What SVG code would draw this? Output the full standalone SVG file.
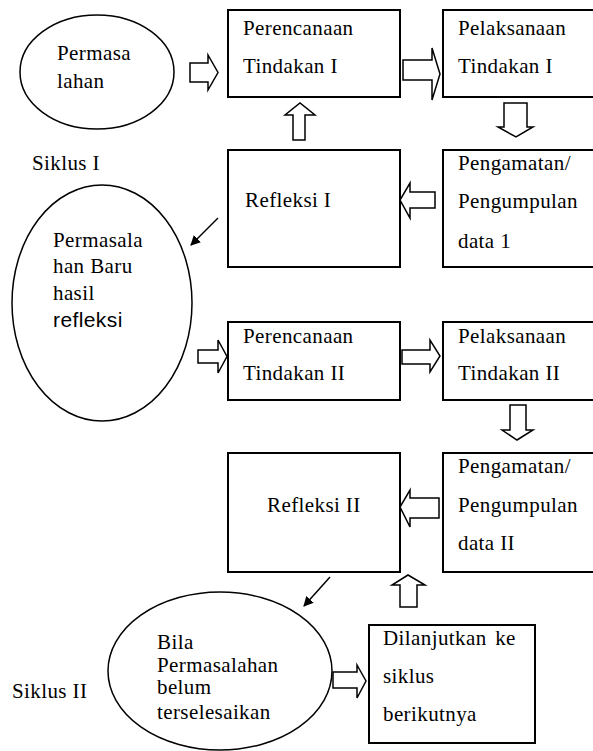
<svg xmlns="http://www.w3.org/2000/svg" width="593" height="751" viewBox="0 0 593 751">
<style>
.box{fill:#fff;stroke:#000;stroke-width:2}
.ell{fill:#fff;stroke:#000;stroke-width:1.5}
.blk{fill:#fff;stroke:#000;stroke-width:1.5;stroke-linejoin:miter}
.ln{stroke:#000;stroke-width:1.5;fill:none}
text{font-family:"Liberation Serif","Times New Roman",serif;font-size:21px;letter-spacing:0.4px;fill:#000}
.sans{font-family:"Liberation Sans",Arial,sans-serif}
</style>
<defs>
<marker id="ah" markerWidth="10" markerHeight="10" refX="9" refY="5" orient="auto" markerUnits="userSpaceOnUse" viewBox="0 0 10 10">
<path d="M0,0 L10,5 L0,10 z" fill="#000"/>
</marker>
</defs>
<rect width="593" height="751" fill="#fff"/>
<g id="n-permasalahan">
<ellipse class="ell" cx="97" cy="72" rx="77" ry="57"/>
<text x="57" y="60">Permasa</text>
<text x="57" y="88">lahan</text>
</g>
<g id="n-perencanaan1">
<rect class="box" x="228" y="10" width="172" height="87"/>
<text x="243" y="35">Perencanaan</text>
<text x="243" y="73">Tindakan I</text>
</g>
<g id="n-pelaksanaan1">
<rect class="box" x="443" y="10" width="160" height="87"/>
<text x="458" y="35">Pelaksanaan</text>
<text x="458" y="73">Tindakan I</text>
</g>
<g id="n-siklus1">
<text x="32" y="170">Siklus I</text>
</g>
<g id="n-refleksi1">
<rect class="box" x="228" y="150" width="172" height="117"/>
<text x="245" y="207">Refleksi I</text>
</g>
<g id="n-pengamatan1">
<rect class="box" x="443" y="150" width="160" height="117"/>
<text x="458" y="170">Pengamatan/</text>
<text x="458" y="208">Pengumpulan</text>
<text x="458" y="248">data 1</text>
</g>
<g id="n-permasalahan-baru">
<ellipse class="ell" cx="102" cy="303" rx="90" ry="118"/>
<text x="53" y="247">Permasala</text>
<text x="53" y="273">han Baru</text>
<text x="53" y="300">hasil</text>
<text x="53" y="327" class="sans">refleksi</text>
</g>
<g id="n-perencanaan2">
<rect class="box" x="228" y="322" width="172" height="78"/>
<text x="243" y="343">Perencanaan</text>
<text x="243" y="380">Tindakan II</text>
</g>
<g id="n-pelaksanaan2">
<rect class="box" x="443" y="322" width="160" height="78"/>
<text x="458" y="343">Pelaksanaan</text>
<text x="458" y="380">Tindakan II</text>
</g>
<g id="n-refleksi2">
<rect class="box" x="228" y="453" width="172" height="119"/>
<text x="267" y="512">Refleksi II</text>
</g>
<g id="n-pengamatan2">
<rect class="box" x="443" y="453" width="160" height="119"/>
<text x="458" y="473">Pengamatan/</text>
<text x="458" y="512">Pengumpulan</text>
<text x="458" y="550">data II</text>
</g>
<g id="n-siklus2">
<text x="12" y="698">Siklus II</text>
</g>
<g id="n-bila">
<ellipse class="ell" cx="220" cy="671" rx="112" ry="79"/>
<text x="157" y="649">Bila</text>
<text x="157" y="672">Permasalahan</text>
<text x="157" y="694">belum</text>
<text x="157" y="719">terselesaikan</text>
</g>
<g id="n-dilanjutkan">
<rect class="box" x="369" y="625" width="166" height="118"/>
<text x="383" y="645" word-spacing="3">Dilanjutkan ke</text>
<text x="383" y="683">siklus</text>
<text x="383" y="721">berikutnya</text>
</g>
<g id="connectors">
<polygon class="blk" points="190,63 208,63 208,55 218,72.5 208,90 208,82 190,82"/>
<polygon class="blk" points="403,60 432,60 432,48 440,74 432,100 432,80 403,80"/>
<polygon class="blk" points="504,103 527,103 527,127 533,127 516,137 498,127 504,127"/>
<polygon class="blk" points="293,140 293,115 285,115 300,103 315,115 305,115 305,140"/>
<polygon class="blk" points="435,192 410,192 410,183 400,200 410,218 410,208 435,208"/>
<line class="ln" x1="218" y1="218" x2="191" y2="245" marker-end="url(#ah)"/>
<polygon class="blk" points="198,350 218,350 218,340 227,356.5 218,373 218,363 198,363"/>
<polygon class="blk" points="402,350 430,350 430,340 440,356 430,372 430,364 402,364"/>
<polygon class="blk" points="510,405 526,405 526,430 533,430 517,440 502,430 510,430"/>
<polygon class="blk" points="439,498 410,498 410,490 400,507 410,527 410,518 439,518"/>
<polygon class="blk" points="400,607 400,585 392,585 408,575 425,585 417,585 417,607"/>
<line class="ln" x1="330" y1="577" x2="304" y2="606" marker-end="url(#ah)"/>
<polygon class="blk" points="333,672 357,672 357,665 366,681 357,698 357,688 333,688"/>
</g>
</svg>
